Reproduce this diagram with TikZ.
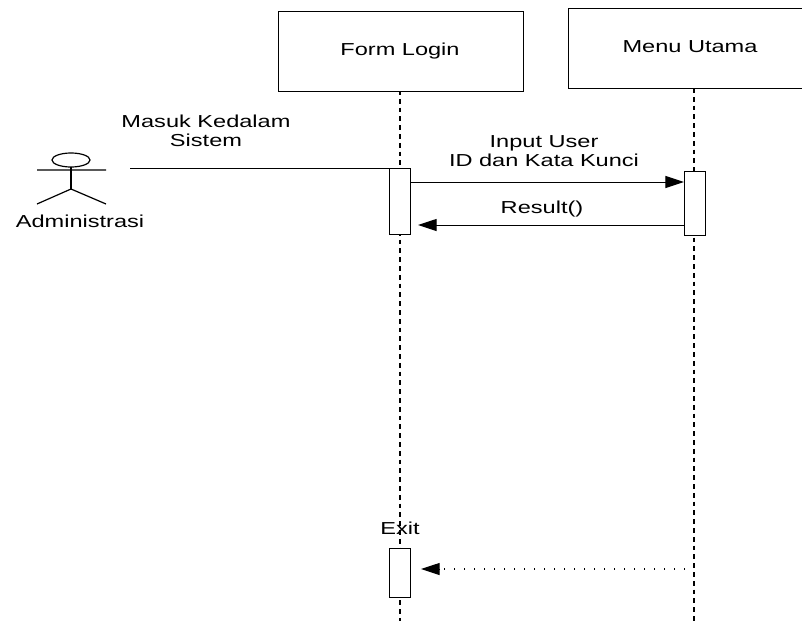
\documentclass[tikz,border=0pt]{standalone}
\usepackage{fontspec}
\setmainfont[FakeStretch=1.36]{Liberation Sans}
\usetikzlibrary{arrows.meta}
\tikzset{
  px/.style={x=0.75pt,y=-0.75pt},
  obj/.style={draw=black,line width=0.75pt,fill=white,inner sep=0pt},
  act/.style={draw=black,line width=0.75pt,fill=white,inner sep=0pt,minimum width=15.75pt},
  lbl/.style={inner sep=0pt,font=\fontsize{13pt}{14.2pt}\selectfont,align=center,text=black},
  life/.style={line width=1.1pt,dash pattern=on 3.6pt off 3pt},
  head/.style={-{Triangle[length=14pt,width=9pt,sep=0pt]}},
  msg/.style={line width=0.75pt,head},
  ret/.style={line width=0.9pt,dash pattern=on 1pt off 6.5pt}
}
\begin{document}
\begin{tikzpicture}[px]
\useasboundingbox (0,0) rectangle (802,621);
% lifelines
\coordinate (fl) at (400,90);
\coordinate (fe) at (400,621);
\coordinate (ml) at (694,88);
\coordinate (me) at (694,621);
\draw[life] (fl) -- (fe);
\draw[life] (ml) -- (me);
% objects
\node[obj,minimum width=183.75pt,minimum height=60pt,anchor=north west] (form) at (278,11) {};
\node[lbl] (formt) at (400,51.5) {Form Login};
\node[obj,minimum width=175.5pt,minimum height=60pt,anchor=north west] (menu) at (568,8) {};
\node[lbl] (menut) at (690,47) {Menu Utama};
% activations
\node[act,minimum height=49.5pt,anchor=north] (a1) at (400,168) {};
\node[act,minimum height=48pt,anchor=north] (a2) at (695,171) {};
\node[act,minimum height=36.75pt,anchor=north] (a3) at (400,548) {};
% actor
\draw[line width=0.9pt] (71,160) ellipse [x radius=19,y radius=7];
\coordinate (arml) at (37,170);
\coordinate (armr) at (106,170);
\coordinate (neck) at (71,167);
\coordinate (hip) at (71,189);
\coordinate (legl) at (37,204);
\coordinate (legr) at (106,204);
\draw[line width=0.9pt] (arml) -- (armr) (legl) -- (hip) -- (legr);
\draw[line width=1.2pt] (neck) -- (hip);
\node[lbl] (admin) at (80,221) {Administrasi};
% messages
\coordinate (start) at (130,168);
\draw[line width=0.75pt] (start) -- (a1.north west);
\draw[msg] (a1.east |- 0,182) -- (a2.west |- 0,182);
\coordinate (r1) at (418,225);
\draw[msg] (a2.west |- 0,225) -- (r1);
\coordinate (x0) at (685,569);
\coordinate (x1) at (440,569);
\coordinate (x2) at (421,569);
\draw[ret] (x0) -- (x1);
\draw[line width=0.75pt,head] (x1) -- (x2);
% labels
\node[lbl] (m1) at (206,130.5) {Masuk Kedalam\\Sistem};
\node[lbl] (m2) at (544,151.5) {Input User\\ID dan Kata Kunci};
\node[lbl] (m3) at (542,209) {Result()};
\node[lbl] (m4) at (400,528) {Exit};
\end{tikzpicture}
\end{document}
